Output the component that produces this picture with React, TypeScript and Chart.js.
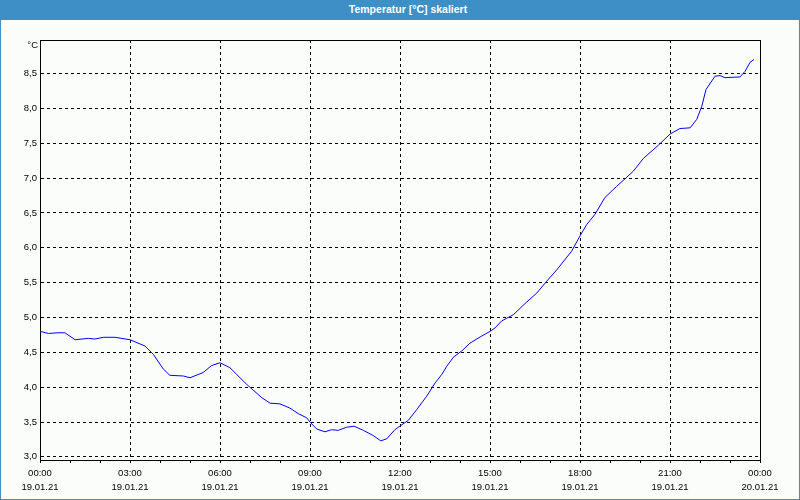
import React, { useEffect, useRef } from 'react';
import { Chart, registerables } from 'chart.js';

Chart.register(...registerables);

const TITLE = 'Temperatur [°C] skaliert';
const UNIT = '°C';

// Hours since 19.01.21 00:00
const hours = [
  0, 0.28, 0.6, 0.83, 1.17, 1.61, 1.83, 2.11, 2.5, 3.0, 3.5, 3.78, 4.11, 4.33, 4.78, 5.0,
  5.44, 5.72, 6.0, 6.33, 6.89, 7.39, 7.67, 8.0, 8.33, 8.61, 8.89, 9.02, 9.22, 9.5, 9.72,
  9.94, 10.22, 10.47, 10.78, 11.11, 11.36, 11.56, 11.83, 12.06, 12.28, 12.56, 12.89, 13.17,
  13.39, 13.56, 13.78, 14.06, 14.33, 14.67, 15.0, 15.17, 15.39, 15.78, 16.22, 16.56, 16.89,
  17.22, 17.72, 18.0, 18.22, 18.5, 18.83, 19.22, 19.53, 19.78, 20.11, 20.61, 21.0, 21.33,
  21.67, 21.89, 22.06, 22.2, 22.5, 22.67, 22.83, 23.33, 23.5, 23.67, 23.8,
];
const temps = [
  4.8, 4.77, 4.78, 4.78, 4.68, 4.7, 4.69, 4.715, 4.715, 4.68, 4.59, 4.47, 4.26, 4.17, 4.16, 4.135,
  4.21, 4.31, 4.35, 4.28, 4.04, 3.85, 3.77, 3.76, 3.7, 3.62, 3.56, 3.49, 3.4, 3.36, 3.39,
  3.38, 3.425, 3.44, 3.38, 3.305, 3.23, 3.26, 3.39, 3.46, 3.525, 3.68, 3.87, 4.06,
  4.18, 4.3, 4.43, 4.52, 4.63, 4.72, 4.8, 4.85, 4.95, 5.04, 5.22, 5.35, 5.52,
  5.68, 5.95, 6.17, 6.33, 6.48, 6.72, 6.88, 7.0, 7.1, 7.28, 7.47, 7.63, 7.71,
  7.72, 7.84, 8.03, 8.27, 8.46, 8.47, 8.44, 8.45, 8.53, 8.66, 8.7,
];

const xMinorTicks = [0, 1, 2, 3, 4, 5, 6, 7, 8, 9, 10, 11, 12, 13, 14, 15, 16, 17, 18, 19, 20, 21, 22, 23, 24];
const xMajorTicks = [0, 3, 6, 9, 12, 15, 18, 21, 24];
const xTimeLabels = ['00:00', '03:00', '06:00', '09:00', '12:00', '15:00', '18:00', '21:00', '00:00'];
const xDateLabels = ['19.01.21', '19.01.21', '19.01.21', '19.01.21', '19.01.21', '19.01.21', '19.01.21', '19.01.21', '20.01.21'];
const yTicks = [3.0, 3.5, 4.0, 4.5, 5.0, 5.5, 6.0, 6.5, 7.0, 7.5, 8.0, 8.5];
const Y_MIN = 2.955;
const Y_MAX = 8.98;

const FONT = 'Liberation Sans';

export default function App() {
  const ref = useRef<HTMLCanvasElement | null>(null);

  useEffect(() => {
    if (!ref.current) return;
    const boxPlugin = {
      id: 'boxPlugin',
      afterDraw(chart: any) {
        const { ctx, chartArea } = chart;
        ctx.save();
        ctx.strokeStyle = '#000';
        ctx.lineWidth = 1;
        ctx.beginPath();
        ctx.moveTo(Math.round(chartArea.left) + 0.5, Math.round(chartArea.top) + 0.5);
        ctx.lineTo(Math.round(chartArea.right) + 0.5, Math.round(chartArea.top) + 0.5);
        ctx.lineTo(Math.round(chartArea.right) + 0.5, Math.round(chartArea.bottom) + 0.5);
        ctx.stroke();
        ctx.fillStyle = '#000';
        ctx.font = `9.5px "${FONT}"`;
        ctx.textAlign = 'right';
        ctx.textBaseline = 'middle';
        ctx.fillText(UNIT, chartArea.left - 2, chartArea.top + 5);
        ctx.restore();
      },
    };

    const chart = new Chart(ref.current, {
      type: 'line',
      data: {
        datasets: [
          {
            data: hours.map((h, i) => ({ x: h, y: temps[i] })),
            borderColor: '#0000ff',
            borderWidth: 1,
            pointRadius: 0,
            tension: 0,
            fill: false,
          },
        ],
      },
      options: {
        animation: false,
        responsive: false,
        devicePixelRatio: 1,
        layout: { padding: { left: 0, right: 39, top: 20, bottom: 0 } },
        plugins: { legend: { display: false }, tooltip: { enabled: false }, title: { display: false } },
        scales: {
          x: {
            type: 'linear',
            min: 0,
            max: 24,
            afterBuildTicks: (scale: any) => {
              scale.ticks = xMinorTicks.map((v) => ({ value: v }));
            },
            afterFit: (scale: any) => {
              scale.height = 39;
            },
            ticks: {
              autoSkip: false,
              maxRotation: 0,
              padding: 3,
              color: '#000',
              font: { family: FONT, size: 9.5, lineHeight: 1.47 },
              callback: (v: any) => {
                const i = xMajorTicks.indexOf(Number(v));
                return i >= 0 ? [xTimeLabels[i], xDateLabels[i]] : '';
              },
            },
            grid: {
              color: (c: any) => (c.tick && xMajorTicks.indexOf(c.tick.value) >= 0 ? '#000' : 'rgba(0,0,0,0)'),
              lineWidth: 1,
              drawTicks: true,
              tickLength: 3,
              tickColor: '#000',
            },
            border: { display: true, color: '#000', width: 1, dash: [3, 3] },
          },
          y: {
            type: 'linear',
            min: Y_MIN,
            max: Y_MAX,
            afterBuildTicks: (scale: any) => {
              scale.ticks = yTicks.map((v) => ({ value: v }));
            },
            afterFit: (scale: any) => {
              scale.width = 39;
            },
            ticks: {
              padding: 3,
              color: '#000',
              font: { family: FONT, size: 9.5 },
              callback: (v: any) => Number(v).toFixed(1).replace('.', ','),
            },
            grid: { color: '#000', lineWidth: 1, drawTicks: false },
            border: { display: true, color: '#000', width: 1, dash: [3, 3] },
          },
        },
      },
      plugins: [boxPlugin],
    } as any);
    return () => chart.destroy();
  }, []);

  return (
    <div style={{ position: 'fixed', left: 0, top: 0, width: 800, height: 500, background: '#3d8fc6' }}>
      <div
        style={{
          position: 'absolute',
          left: 0,
          top: 0,
          width: 800,
          height: 20,
          paddingLeft: 16,
          boxSizing: 'border-box',
          color: '#fff',
          fontFamily: FONT,
          fontWeight: 'bold',
          fontSize: 10.5,
          lineHeight: '19px',
          textAlign: 'center',
        }}
      >
        {TITLE}
      </div>
      <div style={{ position: 'absolute', left: 1, top: 20, width: 798, height: 479, background: '#fbfdfb' }}>
        <canvas ref={ref} width={798} height={479} style={{ display: 'block' }} />
      </div>
    </div>
  );
}
